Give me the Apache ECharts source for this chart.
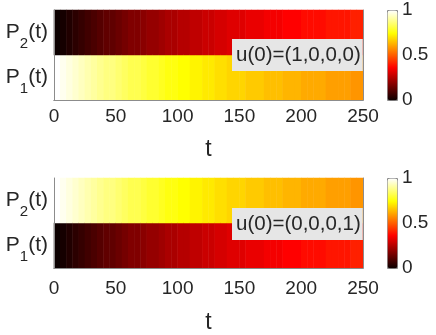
<!DOCTYPE html>
<html>
<head>
<meta charset="utf-8">
<script src="https://cdn.jsdelivr.net/npm/echarts@6/dist/echarts.min.js"></script>
<style>html,body{margin:0;padding:0;background:#fff}#c{width:436px;height:335px}</style>
</head>
<body>
<div id="c"></div>
<script>
// time cell centres
const tCells = [2.5,7.5,12.5,17.5,22.5,27.5,32.5,37.5,42.5,47.5,52.5,57.5,62.5,67.5,72.5,77.5,82.5,87.5,92.5,97.5,
  102.5,107.5,112.5,117.5,122.5,127.5,132.5,137.5,142.5,147.5,152.5,157.5,162.5,167.5,172.5,177.5,182.5,187.5,192.5,197.5,
  202.5,207.5,212.5,217.5,222.5,227.5,232.5,237.5,242.5,247.5];
const rowLabels = ['P1', 'P2'];
// u(0) = (1,0,0,0)
const topP1 = [0.991,0.975,0.959,0.943,0.928,0.913,0.899,0.886,0.872,0.860,0.848,0.836,0.824,0.813,0.803,0.792,0.782,0.773,0.763,0.754,
  0.746,0.737,0.729,0.722,0.714,0.707,0.700,0.693,0.686,0.680,0.674,0.668,0.662,0.657,0.651,0.646,0.641,0.636,0.632,0.627,
  0.623,0.619,0.615,0.611,0.607,0.603,0.600,0.596,0.593,0.590];
const topP2 = [0.009,0.025,0.041,0.057,0.072,0.087,0.101,0.114,0.128,0.140,0.152,0.164,0.176,0.187,0.197,0.208,0.218,0.227,0.237,0.246,
  0.254,0.263,0.271,0.278,0.286,0.293,0.300,0.307,0.314,0.320,0.326,0.332,0.338,0.343,0.349,0.354,0.359,0.364,0.368,0.373,
  0.377,0.381,0.385,0.389,0.393,0.397,0.400,0.404,0.407,0.410];
// u(0) = (0,0,0,1)
const botP1 = [0.009,0.025,0.041,0.057,0.072,0.087,0.101,0.114,0.128,0.140,0.152,0.164,0.176,0.187,0.197,0.208,0.218,0.227,0.237,0.246,
  0.254,0.263,0.271,0.278,0.286,0.293,0.300,0.307,0.314,0.320,0.326,0.332,0.338,0.343,0.349,0.354,0.359,0.364,0.368,0.373,
  0.377,0.381,0.385,0.389,0.393,0.397,0.400,0.404,0.407,0.410];
const botP2 = [0.991,0.975,0.959,0.943,0.928,0.913,0.899,0.886,0.872,0.860,0.848,0.836,0.824,0.813,0.803,0.792,0.782,0.773,0.763,0.754,
  0.746,0.737,0.729,0.722,0.714,0.707,0.700,0.693,0.686,0.680,0.674,0.668,0.662,0.657,0.651,0.646,0.641,0.636,0.632,0.627,
  0.623,0.619,0.615,0.611,0.607,0.603,0.600,0.596,0.593,0.590];
const boxTexts = ['u(0)=(1,0,0,0)', 'u(0)=(0,0,0,1)'];
const xMin = 0, xMax = 250, xStep = 50;
const cMin = 0, cMax = 1, cStep = 0.5;

// MATLAB "hot" colormap, 64 levels
function hex(v){ const s = Math.round(v*255).toString(16); return s.length<2 ? '0'+s : s; }
const hot = [];
for (let i = 0; i < 64; i++) {
  const r = Math.min(1, (i+1)/24), g = Math.max(0, Math.min(1, (i+1-24)/24)), b = Math.max(0, Math.min(1, (i+1-48)/16));
  hot.push('#' + hex(r) + hex(g) + hex(b));
}
const pieces = hot.map((c, i) => i === 63 ? {gte: i/64, lte: 1.0001, color: c} : {gte: i/64, lt: (i+1)/64, color: c});

function cells(p1, p2) {
  const d = [];
  tCells.forEach((t, i) => { d.push([i, 0, p1[i]]); d.push([i, 1, p2[i]]); });
  return d;
}

const FONT = '"Liberation Sans", Arial, sans-serif';
const TXT = '#262626';
const LINE = '#8c8c8c';
const grids = [
  {left: 54, top: 10, width: 309, height: 90},
  {left: 54, top: 178, width: 309, height: 90},
  {left: 387, top: 10, width: 10, height: 90},
  {left: 387, top: 178, width: 10, height: 90}
];

const xAxis = [], yAxis = [];
[0, 1].forEach(g => {
  xAxis.push({type: 'category', gridIndex: g, data: tCells, position: 'top', z: 5,
    axisLine: {show: true, lineStyle: {color: LINE, width: 1}}, axisTick: {show: false}, axisLabel: {show: false}});
  xAxis.push({type: 'value', gridIndex: g, min: xMin, max: xMax, interval: xStep, position: 'bottom', z: 5,
    axisLine: {show: true, lineStyle: {color: LINE, width: 1}}, axisTick: {show: false}, splitLine: {show: false},
    axisLabel: {color: TXT, fontSize: 19, fontFamily: FONT, margin: g === 0 ? 7 : 11},
    name: 't', nameLocation: 'middle', nameGap: g === 0 ? 38 : 43,
    nameTextStyle: {color: TXT, fontSize: 23, fontFamily: FONT}});
  yAxis.push({type: 'category', gridIndex: g, data: rowLabels, z: 5,
    axisLine: {show: true, lineStyle: {color: LINE, width: 1}}, axisTick: {show: false},
    axisLabel: {margin: 6, formatter: v => '{p|P}{s|' + v.slice(1) + '}{p|(t)}',
      rich: {p: {fontSize: 21, fontFamily: FONT, color: TXT, lineHeight: 25},
             s: {fontSize: 15, fontFamily: FONT, color: TXT, lineHeight: 15, verticalAlign: 'top', padding: [16, 0, 0, 0]}}}});
  yAxis.push({type: 'value', gridIndex: g, min: 0, max: 1, position: 'right', z: 5,
    axisLine: {show: true, lineStyle: {color: LINE, width: 1}}, axisTick: {show: false}, axisLabel: {show: false}, splitLine: {show: false}});
});
[2, 3].forEach(g => {
  xAxis.push({type: 'value', gridIndex: g, min: 0, max: 1, show: false});
  yAxis.push({type: 'value', gridIndex: g, min: cMin, max: cMax, interval: cStep, position: 'right',
    axisLine: {show: false}, axisTick: {show: false}, splitLine: {show: false},
    axisLabel: {color: TXT, fontSize: 19, fontFamily: FONT, margin: 5, formatter: v => String(v)}});
});

const option = {
  animation: false,
  backgroundColor: '#ffffff',
  title: boxTexts.map((s, i) => ({
    text: s, left: 232, top: i === 0 ? 39 : 208, padding: [6, 2, 5, 4], backgroundColor: '#e6e6e6', z: 10,
    textStyle: {fontSize: 20.5, fontWeight: 'normal', color: TXT, fontFamily: FONT}
  })),
  grid: grids,
  xAxis: xAxis,
  yAxis: yAxis,
  visualMap: [
    {type: 'piecewise', show: false, seriesIndex: [0, 1], pieces: pieces},
    {type: 'continuous', show: true, seriesIndex: [], min: cMin, max: cMax, calculable: false, hoverLink: false,
      left: 387, top: 10, itemWidth: 10, itemHeight: 90, padding: 0, text: null, showLabel: false,
      borderColor: LINE, borderWidth: 1, inRange: {color: hot}},
    {type: 'continuous', show: true, seriesIndex: [], min: cMin, max: cMax, calculable: false, hoverLink: false,
      left: 387, top: 178, itemWidth: 10, itemHeight: 90, padding: 0, text: null, showLabel: false,
      borderColor: LINE, borderWidth: 1, inRange: {color: hot}}
  ],
  series: [
    {type: 'heatmap', xAxisIndex: 0, yAxisIndex: 0, data: cells(topP1, topP2), itemStyle: {borderWidth: 0}, emphasis: {disabled: true}},
    {type: 'heatmap', xAxisIndex: 2, yAxisIndex: 2, data: cells(botP1, botP2), itemStyle: {borderWidth: 0}, emphasis: {disabled: true}}
  ]
};
const chart = echarts.init(document.getElementById('c'), null, {renderer: 'canvas'});
chart.setOption(option);
</script>
</body>
</html>
